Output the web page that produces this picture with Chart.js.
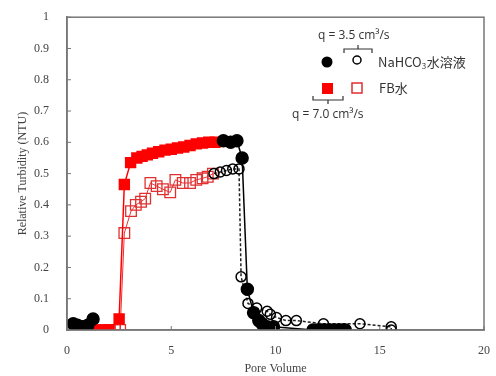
<!DOCTYPE html>
<html>
<head>
    <title>Relative Turbidity</title>
    <script src="https://cdn.jsdelivr.net/npm/chart.js@4/dist/chart.umd.min.js"></script>
    <style>
        body { margin: 0; padding: 0; background: #fff; }
        #wrap { width: 496px; height: 376px; }
    </style>
</head>
<body>
    <div id="wrap"><canvas id="myChart" width="496" height="376"></canvas></div>
    <script>
        // NaHCO3 q = 7.0 (filled black circles)
        const naFastX = [0.3, 0.5, 0.75, 1.0, 1.25, 1.3, 7.5, 7.85, 8.15, 8.4, 8.65, 8.95, 9.2, 9.35, 9.6, 9.9, 11.8, 12.0, 12.2, 12.4, 12.6, 12.8, 13.0, 13.2, 13.35];
        const naFastY = [0.02, 0.015, 0.01, 0.015, 0.035, null, 0.605, 0.60, 0.605, 0.55, 0.13, 0.055, 0.03, 0.02, 0.01, 0.01, 0, 0, 0, 0, 0, 0, 0, 0, 0];
        // NaHCO3 q = 3.5 (open black circles)
        const naSlowX = [0.25, 0.45, 0.5, 7.05, 7.35, 7.65, 7.95, 8.25, 8.35, 8.68, 9.1, 9.6, 9.75, 10.05, 10.5, 11.0, 12.3, 14.05, 15.55, 15.55];
        const naSlowY = [0.02, 0.01, null, 0.50, 0.505, 0.51, 0.515, 0.515, 0.17, 0.085, 0.07, 0.06, 0.05, 0.04, 0.03, 0.03, 0.02, 0.02, 0.01, 0.0];
        // FB水 q = 7.0 (filled red squares)
        const fbFastX = [1.45, 1.75, 2.0, 2.5, 2.75, 3.05, 3.35, 3.6, 3.85, 4.1, 4.4, 4.7, 5.0, 5.3, 5.6, 5.9, 6.2, 6.5, 6.8, 7.1];
        const fbFastY = [0, 0, 0, 0.035, 0.465, 0.535, 0.55, 0.555, 0.56, 0.565, 0.57, 0.575, 0.578, 0.582, 0.585, 0.59, 0.595, 0.598, 0.60, 0.60];
        // FB水 q = 3.5 (open red squares)
        const fbSlowX = [2.05, 2.3, 2.55, 2.75, 3.07, 3.3, 3.55, 3.75, 4.0, 4.3, 4.6, 4.95, 5.2, 5.55, 5.9, 6.2, 6.5, 6.75, 7.0];
        const fbSlowY = [0, 0, 0, 0.31, 0.38, 0.40, 0.41, 0.42, 0.47, 0.46, 0.45, 0.44, 0.48, 0.47, 0.47, 0.48, 0.485, 0.49, 0.50];

        const xTicks = [0, 5, 10, 15, 20];

        function pts(xs, ys) {
            return xs.map((x, i) => ({ x: x, y: ys[i] }));
        }

        // caja del area de la grafica + leyenda dibujada a mano
        const boxAndLegend = {
            id: 'boxAndLegend',
            afterDraw(chart) {
                const c = chart.ctx;
                const a = chart.chartArea;
                c.save();
                c.strokeStyle = '#777';
                c.lineWidth = 1.5;
                c.strokeRect(a.left, a.top, a.right - a.left, a.bottom - a.top);

                // marcas de los ticks hacia dentro
                c.lineWidth = 1;
                chart.scales.y.ticks.forEach(t => {
                    const py = chart.scales.y.getPixelForValue(t.value);
                    c.beginPath(); c.moveTo(a.left, py); c.lineTo(a.left + 4, py); c.stroke();
                });
                xTicks.forEach(v => {
                    const px = chart.scales.x.getPixelForValue(v);
                    c.beginPath(); c.moveTo(px, a.bottom); c.lineTo(px, a.bottom - 4); c.stroke();
                });

                c.fillStyle = '#333';
                c.strokeStyle = '#333';
                c.lineWidth = 1.2;
                c.textBaseline = 'middle';
                c.font = '12px "Open Sans", "Noto Sans CJK JP", sans-serif';
                c.fillText('q = 3.5 cm\u00b3/s', 318, 36);
                // corchete superior
                c.beginPath();
                c.moveTo(344, 53); c.lineTo(344, 49); c.lineTo(372, 49); c.lineTo(372, 53);
                c.moveTo(358, 49); c.lineTo(358, 45);
                c.stroke();

                c.fillStyle = '#000';
                c.beginPath(); c.arc(327, 62, 5.5, 0, Math.PI * 2); c.fill();
                c.strokeStyle = '#000';
                c.lineWidth = 1.5;
                c.beginPath(); c.arc(357, 60, 4, 0, Math.PI * 2); c.stroke();

                c.fillStyle = '#333';
                c.font = '13px "Noto Sans CJK JP", "Open Sans", sans-serif';
                c.fillText('NaHCO', 378, 62);
                let w = c.measureText('NaHCO').width;
                c.font = '8px "Noto Sans CJK JP", sans-serif';
                c.fillText('3', 378 + w, 66);
                c.font = '13px "Noto Sans CJK JP", "Open Sans", sans-serif';
                c.fillText('水溶液', 378 + w + 5, 62);
                c.fillText('FB水', 379, 88);

                c.fillStyle = '#f00';
                c.fillRect(322, 83, 11, 11);
                c.strokeStyle = '#e03030';
                c.lineWidth = 1.5;
                c.strokeRect(352, 83, 10, 10);

                // corchete inferior
                c.strokeStyle = '#333';
                c.lineWidth = 1.2;
                c.beginPath();
                c.moveTo(313, 96); c.lineTo(313, 100); c.lineTo(343, 100); c.lineTo(343, 96);
                c.moveTo(328, 100); c.lineTo(328, 104);
                c.stroke();

                c.fillStyle = '#333';
                c.font = '12px "Open Sans", "Noto Sans CJK JP", sans-serif';
                c.fillText('q = 7.0 cm\u00b3/s', 292, 115);
                c.restore();
            }
        };

        const serif = '"Liberation Serif", "DejaVu Serif", serif';

        new Chart(document.getElementById('myChart'), {
            type: 'scatter',
            data: {
                datasets: [
                    {
                        data: pts(naFastX, naFastY),
                        showLine: true,
                        borderColor: '#000',
                        borderWidth: 1.5,
                        backgroundColor: '#000',
                        pointBackgroundColor: '#000',
                        pointBorderColor: '#000',
                        pointRadius: 6,
                        pointStyle: 'circle',
                        spanGaps: false,
                        order: 1
                    },
                    {
                        data: pts(naSlowX, naSlowY),
                        showLine: true,
                        borderColor: '#222',
                        borderWidth: 1.5,
                        borderDash: [3, 2],
                        pointBackgroundColor: 'rgba(255,255,255,0)',
                        pointBorderColor: '#000',
                        pointBorderWidth: 1.5,
                        pointRadius: 5,
                        pointStyle: 'circle',
                        spanGaps: false,
                        order: 2
                    },
                    {
                        data: pts(fbFastX, fbFastY),
                        showLine: true,
                        borderColor: '#f00',
                        borderWidth: 1.5,
                        pointBackgroundColor: '#f00',
                        pointBorderColor: '#f00',
                        pointRadius: 7,
                        pointStyle: 'rect',
                        order: 3
                    },
                    {
                        data: pts(fbSlowX, fbSlowY),
                        showLine: true,
                        borderColor: '#f03030',
                        borderWidth: 1,
                        pointBackgroundColor: 'rgba(255,255,255,0)',
                        pointBorderColor: '#e03030',
                        pointBorderWidth: 1.3,
                        pointRadius: 7.5,
                        pointStyle: 'rect',
                        order: 4
                    }
                ]
            },
            options: {
                responsive: false,
                animation: false,
                layout: { padding: { top: 12, right: 5, left: 16, bottom: 0 } },
                plugins: {
                    legend: { display: false },
                    tooltip: { enabled: false }
                },
                scales: {
                    x: {
                        type: 'linear',
                        min: 0,
                        max: 20,
                        afterBuildTicks: (s) => { s.ticks = xTicks.map(v => ({ value: v })); },
                        afterFit: (s) => { s.height = 46; },
                        grid: { display: false },
                        border: { display: true, color: '#777', width: 1.5 },
                        ticks: { color: '#444', font: { family: serif, size: 12 }, padding: 6 },
                        title: { display: true, text: 'Pore Volume', color: '#444', font: { family: serif, size: 12 }, padding: { top: 2, bottom: 0 } }
                    },
                    y: {
                        min: 0,
                        max: 1,
                        afterFit: (s) => { s.width = 51; },
                        grid: { display: false },
                        border: { display: true, color: '#777', width: 1.5 },
                        ticks: {
                            stepSize: 0.1,
                            color: '#444',
                            font: { family: serif, size: 12 },
                            padding: 10,
                            callback: (v) => String(Math.round(v * 10) / 10)
                        },
                        title: { display: true, text: 'Relative Turbidity (NTU)', color: '#444', font: { family: serif, size: 12 }, padding: { top: 0, bottom: 4 } }
                    }
                }
            },
            plugins: [boxAndLegend]
        });
    </script>
</body>
</html>
